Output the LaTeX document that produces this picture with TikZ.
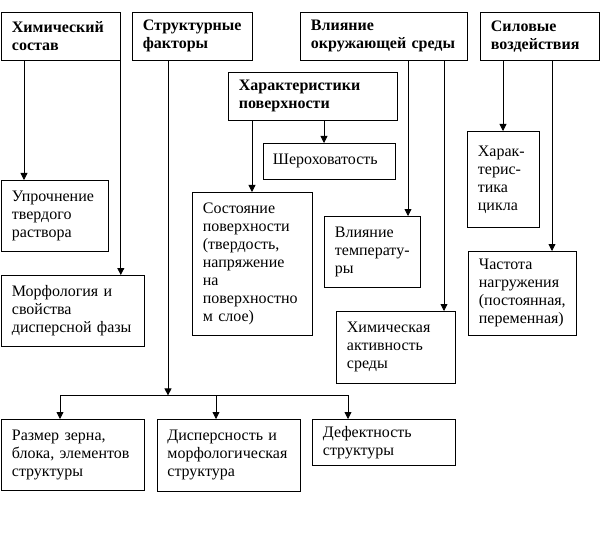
\documentclass[tikz,border=0pt]{standalone}
\usepackage{fontspec}
\setmainfont{Liberation Serif}
\usetikzlibrary{arrows.meta,calc}
\begin{document}
\begin{tikzpicture}[x=1pt,y=-1pt,
  box/.style={draw, line width=0.8pt, anchor=north west, inner xsep=10.5pt, inner ysep=2pt,
    align=left, font=\fontsize{16}{18}\selectfont,
    execute at begin node={\hyphenpenalty=10000\exhyphenpenalty=10000}},
  hbox/.style={box, font=\fontsize{16}{18}\selectfont\bfseries},
  arr/.style={line width=0.8pt, -{Triangle[width=7pt,length=7pt]}},
  ln/.style={line width=0.8pt}]
\useasboundingbox (0,0) rectangle (602,540);

% top row
\node[hbox, text width=98pt, minimum height=48pt] (chem) at (1,12) {Химический\\состав};
\node[hbox, text width=99pt, minimum height=48pt] (struct) at (132,12) {Структурные\\факторы};
\node[hbox, text width=146pt, minimum height=48pt] (env) at (300,12) {Влияние\\окружающей среды};
\node[hbox, text width=98pt, minimum height=48pt] (force) at (480,12) {Силовые\\воздействия};

% surface characteristics
\node[hbox, text width=148pt, minimum height=48pt] (surf) at (228,72) {Характеристики\\поверхности};
\node[box, text width=113pt, minimum height=36pt, inner xsep=9.5pt] (sher) at (263,143) {Шероховатость};
\node[box, text width=99pt, minimum height=143pt] (sost) at (192,192) {Состояние\\поверхности\\(твердость,\\напряжение\\на\\поверхностно\\м слое)};

% chemical composition children
\node[box, text width=86pt, minimum height=71pt] (upr) at (1,180) {Упрочнение\\твердого\\раствора};
\node[box, text width=122pt, minimum height=71pt] (morph) at (1,275) {Морфология и\\свойства\\дисперсной фазы};

% environment children
\node[box, text width=75pt, minimum height=71pt] (temp) at (324,216) {Влияние\\температу-\\ры};
\node[box, text width=98pt, minimum height=72pt] (chact) at (336,311) {Химическая\\активность\\среды};

% force children
\node[box, text width=51pt, minimum height=96pt] (cycle) at (467,131) {Харак-\\терис-\\тика\\цикла};
\node[box, text width=87pt, minimum height=84pt] (freq) at (468,251) {Частота\\нагружения\\(постоянная,\\переменная)};

% structural children
\node[box, text width=122pt, minimum height=71pt] (razm) at (1,419) {Размер зерна,\\блока, элементов\\структуры};
\node[box, text width=123pt, minimum height=72pt, inner xsep=10pt] (disp) at (157,419) {Дисперсность и\\морфологическая\\структура};
\node[box, text width=122pt, minimum height=46pt] (def) at (312,419) {Дефектность\\структуры};

% connectors
\draw[arr] ([xshift=23pt]chem.south west) -- ([xshift=23pt]chem.south west |- upr.north);
\draw[arr] (chem.south east) -- (chem.south east |- morph.north);

\coordinate (bus) at (168,395);
\coordinate (busL) at (60,395);
\coordinate (busM) at (216,395);
\coordinate (busR) at (348,395);
\draw[arr] ([xshift=36pt]struct.south west) -- ([yshift=-0.4pt]bus);
\draw[ln] (busL) -- (busR);
\draw[arr] (busL) -- (busL |- razm.north);
\draw[arr] (busM) -- (busM |- disp.north);
\draw[arr] (busR) -- (busR |- def.north);

\draw[arr] ([xshift=96pt]surf.south west) -- ([xshift=96pt]surf.south west |- sher.north);
\draw[arr] ([xshift=24pt]surf.south west) -- ([xshift=24pt]surf.south west |- sost.north);

\draw[arr] ([xshift=108pt]env.south west) -- ([xshift=108pt]env.south west |- temp.north);
\draw[arr] ([xshift=144pt]env.south west) -- ([xshift=144pt]env.south west |- chact.north);

\draw[arr] ([xshift=23pt]force.south west) -- ([xshift=23pt]force.south west |- cycle.north);
\draw[arr] ([xshift=72pt]force.south west) -- ([xshift=72pt]force.south west |- freq.north);
\end{tikzpicture}
\end{document}
